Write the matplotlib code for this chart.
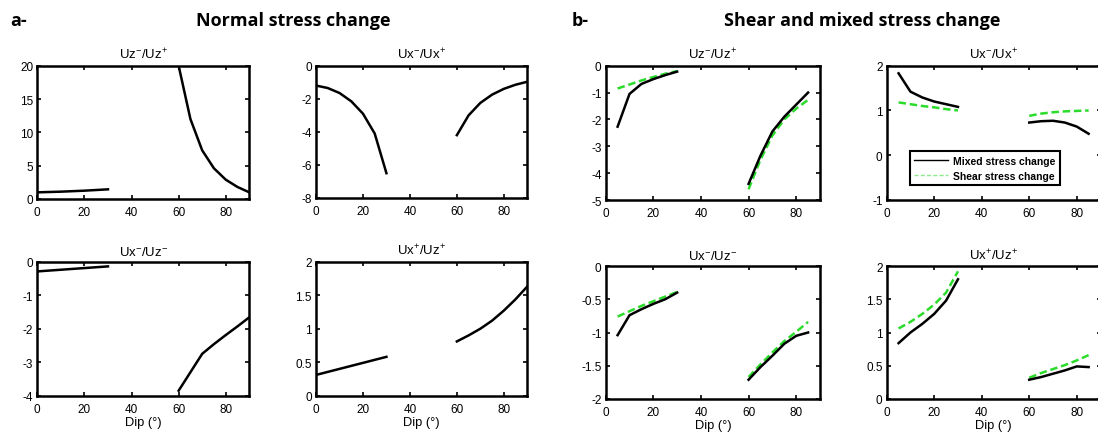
import matplotlib
matplotlib.use("Agg")
import matplotlib.pyplot as plt
import numpy as np

plt.rcParams['font.family'] = ['Liberation Sans', 'DejaVu Sans']
plt.rcParams['mathtext.fontset'] = 'custom'
plt.rcParams['mathtext.rm'] = 'Liberation Sans'
plt.rcParams['mathtext.it'] = 'Liberation Sans'
plt.rcParams['axes.unicode_minus'] = False

# dati (dip in gradi)
dip_a_sx = [0, 10, 20, 30]
dip_a_dx = [60, 65, 70, 75, 80, 85, 90]
dip_b_sx = [5, 10, 15, 20, 25, 30]
dip_b_dx = [60, 65, 70, 75, 80, 85]

# a- normal stress change
a_uz_sx = [1.0, 1.1, 1.25, 1.45]
a_uz_dx = [20.0, 12.0, 7.3, 4.6, 2.9, 1.8, 1.0]
dip_a_ux_sx = [0, 5, 10, 15, 20, 25, 30]
a_ux_sx = [-1.2, -1.35, -1.65, -2.15, -2.9, -4.1, -6.5]
a_ux_dx = [-4.2, -3.0, -2.25, -1.75, -1.4, -1.15, -0.97]
a_uxuzm_sx = [-0.29, -0.24, -0.19, -0.14]
a_uxuzm_dx = [-3.85, -3.3, -2.75, -2.46, -2.19, -1.93, -1.66]
a_uxuzp_sx = [0.31, 0.4, 0.49, 0.58]
a_uxuzp_dx = [0.81, 0.9, 1.0, 1.12, 1.27, 1.44, 1.63]

# b- shear (tratteggio verde) e mixed (nero)
b_uz_mix_sx = [-2.27, -1.05, -0.68, -0.5, -0.35, -0.22]
b_uz_mix_dx = [-4.4, -3.35, -2.45, -1.9, -1.45, -1.0]
b_uz_sh_sx = [-0.85, -0.7, -0.55, -0.42, -0.3, -0.2]
b_uz_sh_dx = [-4.6, -3.5, -2.6, -2.0, -1.6, -1.27]

b_ux_mix_sx = [1.83, 1.42, 1.29, 1.2, 1.14, 1.08]
b_ux_mix_dx = [0.73, 0.76, 0.77, 0.73, 0.64, 0.48]
b_ux_sh_sx = [1.18, 1.14, 1.1, 1.07, 1.03, 1.0]
b_ux_sh_dx = [0.88, 0.93, 0.96, 0.98, 0.99, 1.0]

b_uxuzm_mix_sx = [-1.04, -0.74, -0.65, -0.57, -0.5, -0.4]
b_uxuzm_mix_dx = [-1.71, -1.52, -1.35, -1.17, -1.05, -1.0]
b_uxuzm_sh_sx = [-0.76, -0.68, -0.6, -0.53, -0.46, -0.39]
b_uxuzm_sh_dx = [-1.67, -1.48, -1.3, -1.13, -0.99, -0.84]

b_uxuzp_mix_sx = [0.84, 1.0, 1.13, 1.28, 1.48, 1.8]
b_uxuzp_mix_dx = [0.29, 0.33, 0.38, 0.43, 0.49, 0.48]
b_uxuzp_sh_sx = [1.06, 1.16, 1.28, 1.42, 1.6, 1.92]
b_uxuzp_sh_dx = [0.32, 0.39, 0.45, 0.51, 0.58, 0.66]

titoli = [r'Uz$^{-}$/Uz$^{+}$', r'Ux$^{-}$/Ux$^{+}$', r'Ux$^{-}$/Uz$^{-}$', r'Ux$^{+}$/Uz$^{+}$']

W, H = 1098, 439
fig = plt.figure(figsize=(W / 100, H / 100), dpi=100)

def crea_asse(x0, x1, y0, y1):
    ax = fig.add_axes([x0 / W, 1 - y1 / H, (x1 - x0) / W, (y1 - y0) / H])
    ax.tick_params(direction='in', top=True, right=True, length=3, width=1.2,
                   labelsize=8.5, pad=3)
    ax.tick_params(axis='x', pad=5)
    for s in ax.spines.values():
        s.set_linewidth(1.8)
    ax.set_xlim(0, 90)
    ax.set_xticks([0, 20, 40, 60, 80])
    return ax

nero = dict(color='black', lw=1.8)
verde = dict(color='#2bdc2b', lw=1.8, ls=(0, (3, 1.5)))
fs_tit = 9.5

# pannello a
ax = crea_asse(37.3, 249.3, 66.7, 200)
ax.plot(dip_a_sx, a_uz_sx, **nero)
ax.plot(dip_a_dx, a_uz_dx, **nero)
ax.set_ylim(0, 20)
ax.set_yticks([0, 5, 10, 15, 20])
ax.set_title(titoli[0], fontsize=fs_tit, pad=5)

ax = crea_asse(316, 527.3, 66.7, 199)
ax.plot(dip_a_ux_sx, a_ux_sx, **nero)
ax.plot(dip_a_dx, a_ux_dx, **nero)
ax.set_ylim(-8, 0)
ax.set_yticks([-8, -6, -4, -2, 0])
ax.set_title(titoli[1], fontsize=fs_tit, pad=5)

ax = crea_asse(37.3, 249.3, 262.7, 396.7)
ax.plot(dip_a_sx, a_uxuzm_sx, **nero)
ax.plot(dip_a_dx, a_uxuzm_dx, **nero)
ax.set_ylim(-4, 0)
ax.set_yticks([-4, -3, -2, -1, 0])
ax.set_title(titoli[2], fontsize=fs_tit, pad=5)
ax.set_xlabel('Dip (°)', fontsize=9.3, labelpad=1)

ax = crea_asse(316, 527.3, 262.7, 396.7)
ax.plot(dip_a_sx, a_uxuzp_sx, **nero)
ax.plot(dip_a_dx, a_uxuzp_dx, **nero)
ax.set_ylim(0, 2)
ax.set_yticks([0, 0.5, 1, 1.5, 2])
ax.set_yticklabels(['0', '0.5', '1', '1.5', '2'])
ax.set_title(titoli[3], fontsize=fs_tit, pad=5)
ax.set_xlabel('Dip (°)', fontsize=9.3, labelpad=1)

# pannello b
ax = crea_asse(605.7, 820, 66.7, 201)
ax.plot(dip_b_sx, b_uz_sh_sx, **verde)
ax.plot(dip_b_dx, b_uz_sh_dx, **verde)
ax.plot(dip_b_sx, b_uz_mix_sx, **nero)
ax.plot(dip_b_dx, b_uz_mix_dx, **nero)
ax.set_ylim(-5, 0)
ax.set_yticks([-5, -4, -3, -2, -1, 0])
ax.set_title(titoli[0], fontsize=fs_tit, pad=5)

ax = crea_asse(886.7, 1100.5, 66.7, 201)
ax.plot(dip_b_sx, b_ux_sh_sx, **verde)
l2, = ax.plot(dip_b_dx, b_ux_sh_dx, **verde)
ax.plot(dip_b_sx, b_ux_mix_sx, **nero)
l1, = ax.plot(dip_b_dx, b_ux_mix_dx, **nero)
ax.set_ylim(-1, 2)
ax.set_yticks([-1, 0, 1, 2])
ax.set_title(titoli[1], fontsize=fs_tit, pad=5)
leg = ax.legend([l1, l2], ['Mixed stress change', 'Shear stress change'],
                loc='lower right', bbox_to_anchor=(0.835, 0.07), fontsize=7.5,
                fancybox=False, framealpha=1, edgecolor='black',
                handlelength=3.2, handletextpad=0.5, borderpad=0.45,
                labelspacing=0.45)
leg.get_frame().set_linewidth(1.5)
for t in leg.get_texts():
    t.set_fontweight('bold')
leg.get_lines()[0].set_linewidth(1.0)
leg.get_lines()[1].set_linewidth(1.0)
leg.get_lines()[1].set_color('#8fe88f')

ax = crea_asse(605.7, 820, 267, 400)
ax.plot(dip_b_sx, b_uxuzm_sh_sx, **verde)
ax.plot(dip_b_dx, b_uxuzm_sh_dx, **verde)
ax.plot(dip_b_sx, b_uxuzm_mix_sx, **nero)
ax.plot(dip_b_dx, b_uxuzm_mix_dx, **nero)
ax.set_ylim(-2, 0)
ax.set_yticks([-2, -1.5, -1, -0.5, 0])
ax.set_yticklabels(['-2', '-1.5', '-1', '-0.5', '0'])
ax.set_title(titoli[2], fontsize=fs_tit, pad=5)
ax.set_xlabel('Dip (°)', fontsize=9.3, labelpad=1)

ax = crea_asse(886.7, 1100.5, 267, 400)
ax.plot(dip_b_sx, b_uxuzp_sh_sx, **verde)
ax.plot(dip_b_dx, b_uxuzp_sh_dx, **verde)
ax.plot(dip_b_sx, b_uxuzp_mix_sx, **nero)
ax.plot(dip_b_dx, b_uxuzp_mix_dx, **nero)
ax.set_ylim(0, 2)
ax.set_yticks([0, 0.5, 1, 1.5, 2])
ax.set_yticklabels(['0', '0.5', '1', '1.5', '2'])
ax.set_title(titoli[3], fontsize=fs_tit, pad=5)
ax.set_xlabel('Dip (°)', fontsize=9.3, labelpad=1)

# titoli generali
fs_sup = 13
fig.text(10 / W, 1 - 21 / H, 'a-', fontsize=fs_sup, fontweight='bold',
         family='Open Sans', va='center', ha='left')
fig.text(293 / W, 1 - 21 / H, 'Normal stress change', fontsize=fs_sup,
         fontweight='bold', family='Open Sans', va='center', ha='center')
fig.text(572 / W, 1 - 21 / H, 'b-', fontsize=fs_sup, fontweight='bold',
         family='Open Sans', va='center', ha='left')
fig.text(862 / W, 1 - 21 / H, 'Shear and mixed stress change', fontsize=fs_sup,
         fontweight='bold', family='Open Sans', va='center', ha='center')

fig.savefig('out.png', dpi=100)
